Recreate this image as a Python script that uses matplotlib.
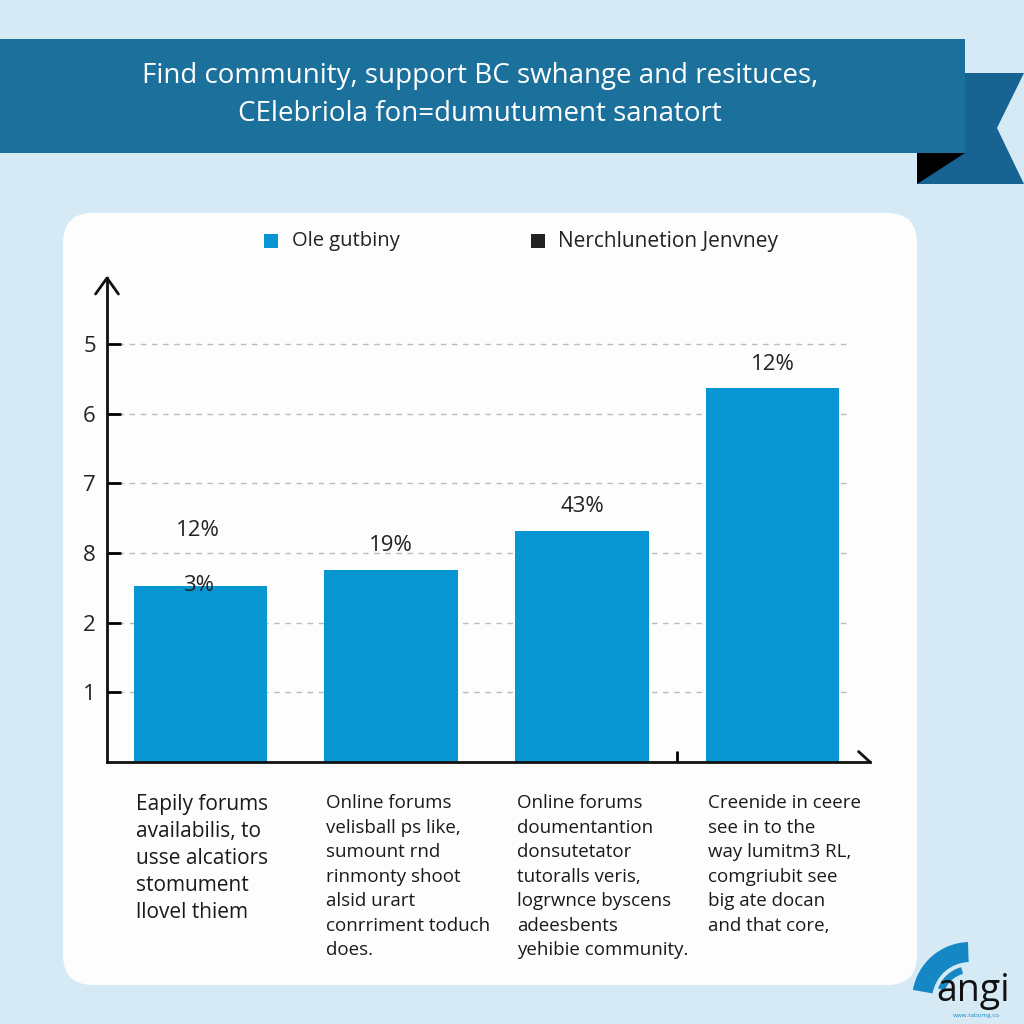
import numpy as np
import matplotlib.pyplot as plt
from matplotlib.patches import Rectangle, Polygon, FancyBboxPatch, Wedge

# data
categories = [
    "Eapily forums\navailabilis, to\nusse alcatiors\nstomument\nllovel thiem",
    "Online forums\nvelisball ps like,\nsumount rnd\nrinmonty shoot\nalsid urart\nconrriment toduch\ndoes.",
    "Online forums\ndoumentantion\ndonsutetator\ntutoralls veris,\nlogrwnce byscens\nadeesbents\nyehibie community.",
    "Creenide in ceere\nsee in to the\nway lumitm3 RL,\ncomgriubit see\nbig ate docan\nand that core,",
]
values = [2.53, 2.76, 3.32, 5.37]
bar_labels = ["3%", "19%", "43%", "12%"]
extra_label = "12%"  # second label floating above the first bar
ytick_pos = [1, 2, 3, 4, 5, 6]
ytick_labels = ["1", "2", "8", "7", "6", "5"]
legend_names = ["Ole gutbiny", "Nerchlunetion Jenvney"]
title = "Find community, support BC swhange and resituces,\nCElebriola fon=dumutument sanatort"

BG = "#d6eaf5"
BANNER = "#1c709c"
TAIL = "#176391"
BAR = "#0796d2"
FONT = ["Open Sans", "DejaVu Sans"]

fig = plt.figure(figsize=(10.24, 10.24), dpi=100)
fig.patch.set_facecolor(BG)

# background layer in pixel coordinates (y down)
bg = fig.add_axes([0, 0, 1, 1])
bg.set_xlim(0, 1024)
bg.set_ylim(1024, 0)
bg.axis("off")
bg.set_zorder(0)

bg.add_patch(Polygon([(965, 73), (1024, 73), (997, 128), (1024, 184), (917, 184)],
                     closed=True, color=TAIL, lw=0))
bg.add_patch(Polygon([(917, 153), (965, 153), (917, 184)], closed=True, color="black", lw=0))
bg.add_patch(Rectangle((0, 39), 965, 114, color=BANNER, lw=0))
bg.text(480, 95, title, ha="center", va="center", color="white", fontsize=20,
        family=FONT, linespacing=1.45)

bg.add_patch(FancyBboxPatch((93, 243), 794, 712, boxstyle="round,pad=30,rounding_size=30",
                            fc="#fdfdfd", ec="none"))

# legend
bg.add_patch(Rectangle((264, 234), 14, 14, color=BAR, lw=0))
bg.text(292, 241, legend_names[0], va="center", fontsize=14.5, color="#222222", family=FONT)
bg.add_patch(Rectangle((531, 234), 14, 14, color="#222222", lw=0))
bg.text(558, 241, legend_names[1], va="center", fontsize=15, color="#222222", family=FONT)

# logo
bg.add_patch(Wedge((970, 1000), 58, 190, 268, width=20, color="#1487c4", lw=0))
bg.add_patch(Wedge((970, 1000), 34, 200, 255, width=7, color="#1487c4", lw=0))
bg.text(936, 1001, "angi", fontsize=27, color="#111111", family=FONT, va="baseline")
bg.text(953, 1015, "www.tabomg.co", fontsize=4.5, color="#1487c4", family=FONT, va="center")

# chart axes
ax = fig.add_axes([107 / 1024, (1024 - 762) / 1024, 763 / 1024, 484 / 1024])
ax.set_zorder(2)
ax.patch.set_alpha(0)
x = np.arange(len(values))
ax.set_xlim(-0.49, 3.51)
ax.set_ylim(0, 6.95)

for y in ytick_pos:
    ax.plot([-0.49, 3.41], [y, y], color="#bbbbbb", lw=1, ls=(0, (4, 4)), zorder=1)

ax.bar(x, values, width=0.70, color=BAR, zorder=2)

for i, (v, lab) in enumerate(zip(values, bar_labels)):
    off = 0 if i == 0 else 24
    ax.annotate(lab, (x[i], v), xytext=(-2 if i == 0 else 0, off), textcoords="offset pixels",
                ha="center", va="center", fontsize=16, color="#222222", family=FONT, zorder=3)
ax.annotate(extra_label, (x[0], values[0]), xytext=(-3, 55), textcoords="offset pixels",
            ha="center", va="center", fontsize=16, color="#222222", family=FONT)

for i, lab in enumerate(categories):
    fs = 15 if i == 0 else 13.5
    ls = 1.37 if i == 0 else 1.47
    ax.annotate(lab, (x[i] - 0.34, 0), xytext=(0, -32), textcoords="offset pixels",
                ha="left", va="top", fontsize=fs, color="#1a1a1a", family=FONT,
                linespacing=ls, annotation_clip=False)

for s in ["top", "right"]:
    ax.spines[s].set_visible(False)
for s in ["left", "bottom"]:
    ax.spines[s].set_linewidth(2)
    ax.spines[s].set_color("#111111")

ax.set_yticks(ytick_pos)
ax.set_yticklabels(ytick_labels, fontsize=16, family=FONT, color="#222222")
ax.tick_params(axis="y", direction="in", length=10, width=2, pad=8)
ax.set_xticks([2.5])
ax.set_xticklabels([""])
ax.tick_params(axis="x", direction="in", length=8, width=2)

# axis arrowheads
ax.plot([-0.55, -0.49, -0.43], [6.72, 6.95, 6.72], color="#111111", lw=2,
        clip_on=False, solid_capstyle="round")
ax.plot([3.45, 3.51], [0.15, 0], color="#111111", lw=2, clip_on=False,
        solid_capstyle="round")

fig.savefig("out.png", dpi=100, facecolor=BG)
